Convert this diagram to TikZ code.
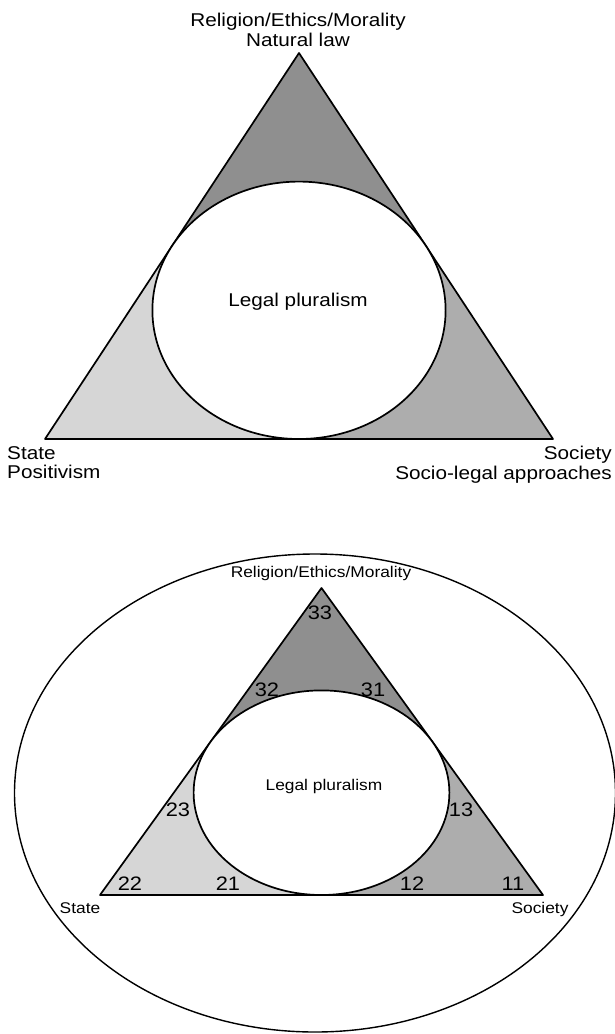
\documentclass[tikz,border=0pt]{standalone}
\usepackage{fontspec}
\setmainfont[FakeStretch=1.12]{Liberation Sans}
\usetikzlibrary{calc}
\definecolor{topgray}{gray}{0.56}
\definecolor{rightgray}{gray}{0.68}
\definecolor{leftgray}{gray}{0.84}
\tikzset{every picture/.style={line cap=round, line join=round}}
\tikzset{outline/.style={draw=black, line width=1.7pt}}
\tikzset{thinline/.style={draw=black, line width=1.4pt}}
\tikzset{biglabel/.style={inner sep=0pt, font=\fontsize{18.5}{19.5}\selectfont}}
\tikzset{smalllabel/.style={inner sep=0pt, font=\fontsize{15.5}{17}\selectfont}}
\tikzset{cell/.style={inner sep=0pt, font=\fontsize{19.5}{20}\selectfont}}

\begin{document}
\begin{tikzpicture}[x=1pt, y=-1pt]
  \useasboundingbox (0,0) rectangle (615,1034);

  % upper triangle
  \coordinate (A1) at (299,53);
  \coordinate (B1) at (45,439);
  \coordinate (C1) at (553,439);
  \coordinate (O1) at (299,310.3);
  \coordinate (L1) at ($(A1)!0.5!(B1)$);
  \coordinate (R1) at ($(A1)!0.5!(C1)$);
  \coordinate (D1) at ($(B1)!0.5!(C1)$);
  \fill[topgray]   (A1) -- (L1) -- (R1) -- cycle;
  \fill[leftgray]  (B1) -- (D1) -- (L1) -- cycle;
  \fill[rightgray] (C1) -- (R1) -- (D1) -- cycle;
  \draw[outline] (A1) -- (B1) -- (C1) -- cycle;
  \draw[outline, fill=white] (O1) ellipse [x radius=146.6, y radius=128.7];

  \node[biglabel, align=center] (ethics) at (298,30) {Religion/Ethics/Morality\\Natural law};
  \node[biglabel, align=left, anchor=north west] (state) at (7,446) {State\\Positivism};
  \node[biglabel, align=right, anchor=north east] (society) at (612,446) {Society\\Socio-legal approaches};
  \node[biglabel] (plural) at (298,302) {Legal pluralism};

  % lower triangle inside the outer ellipse
  \coordinate (A2) at (321.5,588);
  \coordinate (B2) at (100,895);
  \coordinate (C2) at (543,895);
  \coordinate (O2) at (321.5,792.7);
  \coordinate (L2) at ($(A2)!0.5!(B2)$);
  \coordinate (R2) at ($(A2)!0.5!(C2)$);
  \coordinate (D2) at ($(B2)!0.5!(C2)$);
  \draw[thinline] (315,793) ellipse [x radius=300.5, y radius=239];
  \fill[topgray]   (A2) -- (L2) -- (R2) -- cycle;
  \fill[leftgray]  (B2) -- (D2) -- (L2) -- cycle;
  \fill[rightgray] (C2) -- (R2) -- (D2) -- cycle;
  \draw[outline] (A2) -- (B2) -- (C2) -- cycle;
  \draw[outline, fill=white] (O2) ellipse [x radius=127.9, y radius=102.3];

  \node[smalllabel] (ethics2) at (321,573) {Religion/Ethics/Morality};
  \node[smalllabel, anchor=north] (state2) at (80,902) {State};
  \node[smalllabel, anchor=north] (society2) at (540,902) {Society};
  \node[smalllabel] (plural2) at (324,786) {Legal pluralism};

  \node[cell] (c33) at (320,613) {33};
  \node[cell] (c32) at (267,690) {32};
  \node[cell] (c31) at (373,690) {31};
  \node[cell] (c23) at (178,810) {23};
  \node[cell] (c13) at (461,810) {13};
  \node[cell] (c22) at (130,884) {22};
  \node[cell] (c21) at (228,884) {21};
  \node[cell] (c12) at (412,884) {12};
  \node[cell] (c11) at (513,884) {11};
\end{tikzpicture}
\end{document}
